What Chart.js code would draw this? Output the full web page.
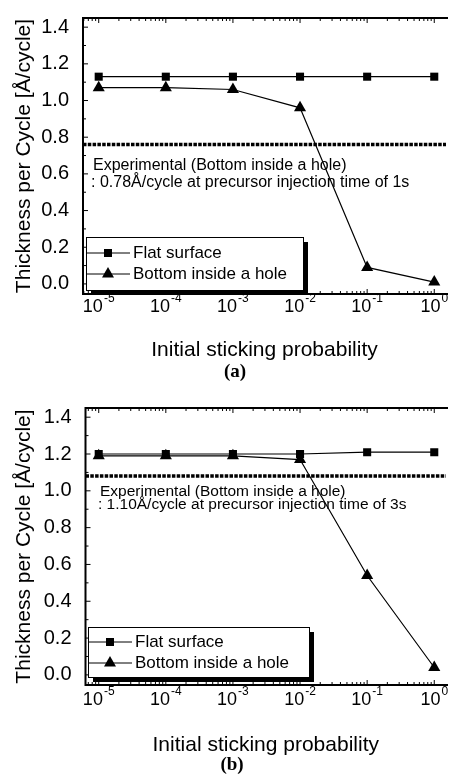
<!DOCTYPE html>
<html>
<head>
<meta charset="utf-8">
<script src="https://cdn.jsdelivr.net/npm/chart.js"></script>
<style>
  html, body { margin: 0; padding: 0; background: #fff; }
  canvas { display: block; }
</style>
</head>
<body>
<canvas id="chart-a" width="453" height="390"></canvas>
<canvas id="chart-b" width="453" height="385"></canvas>
<script>
// data
const probability = [1e-5, 1e-4, 1e-3, 1e-2, 1e-1, 1];
const flatA = [1.13, 1.13, 1.13, 1.13, 1.13, 1.13];
const holeA = [1.07, 1.07, 1.06, 0.96, 0.09, 0.01];
const flatB = [1.20, 1.20, 1.20, 1.20, 1.21, 1.21];
const holeB = [1.19, 1.19, 1.19, 1.17, 0.54, 0.04];
const experimentalA = 0.76;
const experimentalB = 1.08;
const yTickValues = [0, 0.2, 0.4, 0.6, 0.8, 1.0, 1.2, 1.4];
const xTickExponents = [-5, -4, -3, -2, -1, 0];
const seriesNames = ['Flat surface', 'Bottom inside a hole'];

Chart.defaults.font.family = '"Liberation Sans", Arial, sans-serif';
Chart.defaults.color = '#000';

const FONT = '"Liberation Sans", Arial, sans-serif';

// frame, ticks, reference line, notes, legend box, caption
const decor = {
  id: 'decor',
  afterDraw(chart, args, o) {
    const ctx = chart.ctx;
    const ca = chart.chartArea;
    const xs = chart.scales.x;
    const ys = chart.scales.y;
    ctx.save();
    ctx.strokeStyle = '#000';
    ctx.fillStyle = '#000';

    // experimental level
    const ey = ys.getPixelForValue(o.exp);
    ctx.lineWidth = 3.5;
    ctx.setLineDash([3.5, 1.3]);
    ctx.beginPath();
    ctx.moveTo(ca.left, ey);
    ctx.lineTo(ca.right, ey);
    ctx.stroke();
    ctx.setLineDash([]);

    // frame
    ctx.lineWidth = 2;
    ctx.beginPath();
    ctx.moveTo(ca.right + 2, ca.top);
    ctx.lineTo(ca.left, ca.top);
    ctx.lineTo(ca.left, ca.bottom);
    ctx.lineTo(ca.right + 2, ca.bottom);
    ctx.stroke();

    // y ticks (inward)
    ctx.lineWidth = 1;
    ctx.beginPath();
    yTickValues.forEach((v, i) => {
      const y = ys.getPixelForValue(v);
      ctx.moveTo(ca.left, y); ctx.lineTo(ca.left + 5, y);
      if (i < yTickValues.length - 1) {
        const ym = ys.getPixelForValue((v + yTickValues[i + 1]) / 2);
        ctx.moveTo(ca.left, ym); ctx.lineTo(ca.left + 3, ym);
      }
    });
    // x ticks, bottom and top (inward)
    for (let n = -6; n <= 0; n++) {
      for (let k = 1; k <= 9; k++) {
        const v = k * Math.pow(10, n);
        if (v < xs.min || v > xs.max) continue;
        const x = xs.getPixelForValue(v);
        const len = k === 1 ? 5 : 3;
        ctx.moveTo(x, ca.bottom); ctx.lineTo(x, ca.bottom - len);
        ctx.moveTo(x, ca.top); ctx.lineTo(x, ca.top + len);
      }
    }
    ctx.stroke();

    // x tick labels 10^n
    ctx.textBaseline = 'middle';
    ctx.textAlign = 'left';
    xTickExponents.forEach(e => {
      const x = xs.getPixelForValue(Math.pow(10, e));
      const base = '10';
      const sup = String(e);
      ctx.font = '18px ' + FONT;
      const wb = ctx.measureText(base).width;
      ctx.font = '12px ' + FONT;
      const ws = ctx.measureText(sup).width;
      const x0 = x - (wb + ws + 1) / 2;
      const y = ca.bottom + o.labelOffset;
      ctx.font = '18px ' + FONT;
      ctx.fillText(base, x0, y);
      ctx.font = '12px ' + FONT;
      ctx.fillText(sup, x0 + wb + 1, y - 8);
    });

    // note under the experimental line
    ctx.font = o.noteFont + 'px ' + FONT;
    ctx.fillText('Experimental (Bottom inside a hole)', ca.left + o.note[0], ey + o.note[1]);
    ctx.fillText(o.noteText, ca.left + o.note[2], ey + o.note[3]);

    // legend box with drop shadow
    const b = o.box;
    const bx = ca.left + b[0], by = ca.bottom - b[1], bw = b[2], bh = b[3];
    ctx.fillRect(bx + 5, by + 5, bw, bh);
    ctx.fillStyle = '#fff';
    ctx.fillRect(bx, by, bw, bh);
    ctx.fillStyle = '#000';
    ctx.lineWidth = 1;
    ctx.strokeRect(bx + 0.5, by + 0.5, bw, bh);
    const styles = ['rect', 'triangle'];
    ctx.font = '17px ' + FONT;
    seriesNames.forEach((name, i) => {
      const ry = by + b[4] + i * b[5];
      ctx.beginPath();
      ctx.moveTo(bx + 1, ry); ctx.lineTo(bx + 44, ry);
      ctx.stroke();
      const mx = bx + 22;
      ctx.beginPath();
      if (styles[i] === 'rect') {
        ctx.rect(mx - 4, ry - 4, 8, 8);
      } else {
        ctx.moveTo(mx, ry - 7);
        ctx.lineTo(mx + 6, ry + 3.5);
        ctx.lineTo(mx - 6, ry + 3.5);
        ctx.closePath();
      }
      ctx.fill();
      ctx.fillText(name, bx + 47, ry);
    });

    // panel caption
    ctx.font = 'bold 19px "Liberation Serif", "Times New Roman", serif';
    ctx.textAlign = 'center';
    ctx.fillText(o.caption, o.captionPos[0], o.captionPos[1]);
    ctx.restore();
  }
};

function makeChart(id, flat, hole, opts) {
  return new Chart(document.getElementById(id), {
    type: 'line',
    data: {
      datasets: [
        {
          label: seriesNames[0],
          data: probability.map((p, i) => ({ x: p, y: flat[i] })),
          borderColor: '#000',
          backgroundColor: '#000',
          borderWidth: 1.2,
          pointStyle: 'rect',
          pointRadius: 5.7,
          pointBorderWidth: 0,
          fill: false
        },
        {
          label: seriesNames[1],
          data: probability.map((p, i) => ({ x: p, y: hole[i] })),
          borderColor: '#000',
          backgroundColor: '#000',
          borderWidth: 1.2,
          pointStyle: 'triangle',
          pointRadius: 7,
          pointBorderWidth: 0,
          fill: false
        }
      ]
    },
    options: {
      responsive: false,
      animation: false,
      devicePixelRatio: 1,
      layout: { padding: { top: 12, right: 0, left: 0, bottom: 0 } },
      plugins: {
        legend: { display: false },
        tooltip: { enabled: false },
        decor: opts
      },
      scales: {
        x: {
          type: 'logarithmic',
          min: opts.xMin,
          max: opts.xMax,
          grid: { display: false },
          border: { display: false },
          ticks: { display: false },
          afterBuildTicks: s => { s.ticks = xTickExponents.map(e => ({ value: Math.pow(10, e) })); },
          afterFit: s => { s.height = opts.xAxisHeight; },
          title: {
            display: true,
            text: 'Initial sticking probability',
            font: { size: 21 },
            padding: { top: 0, bottom: opts.xTitlePad }
          }
        },
        y: {
          min: -0.055,
          max: 1.45,
          grid: { display: false },
          border: { display: false },
          afterBuildTicks: s => { s.ticks = yTickValues.map(v => ({ value: v })); },
          afterFit: s => { s.width = opts.yAxisWidth; },
          ticks: {
            padding: 6,
            font: { size: 20 },
            callback: v => Number(v).toFixed(1)
          },
          title: {
            display: true,
            text: 'Thickness per Cycle [Å/cycle]',
            font: { size: 21 },
            padding: { top: 12, bottom: 0 }
          }
        }
      }
    },
    plugins: [decor]
  });
}

makeChart('chart-a', flatA, holeA, {
  exp: experimentalA,
  noteText: ': 0.78Å/cycle at precursor injection time of 1s',
  noteFont: 16,
  note: [10, 21, 8, 38],
  box: [3, 57, 217, 53, 16, 21],
  caption: '(a)',
  captionPos: [235, 372],
  labelOffset: 13,
  xMin: Math.pow(10, -5.234),
  xMax: Math.pow(10, 0.175),
  xAxisHeight: 96,
  xTitlePad: 27,
  yAxisWidth: 83
});

makeChart('chart-b', flatB, holeB, {
  exp: experimentalB,
  noteText: ': 1.10Å/cycle at precursor injection time of 3s',
  noteFont: 15.5,
  note: [14.5, 16, 12.5, 29],
  box: [2.5, 58, 221, 50, 15, 21],
  caption: '(b)',
  captionPos: [232, 375],
  labelOffset: 15,
  xMin: Math.pow(10, -5.197),
  xMax: Math.pow(10, 0.175),
  xAxisHeight: 90,
  xTitlePad: 17,
  yAxisWidth: 85.5
});
</script>
</body>
</html>
